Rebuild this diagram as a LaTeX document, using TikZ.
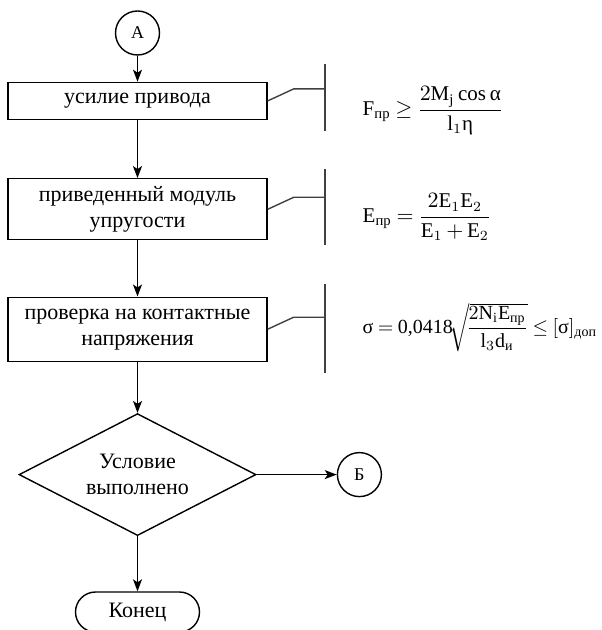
\documentclass[tikz,border=0pt]{standalone}
\usepackage{amsmath}
\usepackage{fontspec}
\setmainfont{Liberation Serif}
\usetikzlibrary{positioning, shapes.geometric, arrows.meta}

\newcommand\tightmath{\thickmuskip=4mu\relax\medmuskip=3mu\relax}

\begin{document}
\begin{tikzpicture}[
  font=\fontsize{11}{13}\selectfont,
  line width=0.7pt,
  flow/.style={-{Stealth[length=6pt, width=4.5pt, inset=1.5pt]}},
  procbox/.style={draw, minimum width=129.5pt, minimum height=#1,
                  inner sep=2pt, align=center},
  joint/.style={draw, circle, minimum size=22pt, inner sep=0pt,
                font=\fontsize{9}{10}\selectfont},
  check/.style={draw, diamond, aspect=1.9, minimum width=118.5pt,
                minimum height=61pt, inner sep=0pt, align=center},
  endbox/.style={draw, rounded corners=10pt, minimum width=62pt,
                 minimum height=20pt, inner sep=0pt},
  note/.style={draw=black!75, line width=0.7pt},
  formula/.style={anchor=west, inner sep=0pt,
                  font=\fontsize{10.5}{12}\selectfont}
]

\useasboundingbox (0,0) rectangle (300.5pt,-315pt);

% ── Flow chart ───────────────────────────────────────────────────────────────
\node[joint] (A) at (68.75pt,-16.5pt) {А};

\node[procbox=18.5pt, below=13pt of A] (force) {усилие привода};
\node[procbox=30.5pt, below=29pt of force] (modulus)
  {приведенный модуль\\упругости};
\node[procbox=32pt, below=28pt of modulus] (contact)
  {проверка на контактные\\напряжения};

\node[check, below=25.5pt of contact] (cond) {Условие\\выполнено};
\node[joint, right=40pt of cond] (B) {Б};
\node[endbox, below=27.5pt of cond] (finish) {Конец};

\draw[flow] (A) -- (force);
\draw[flow] (force) -- (modulus);
\draw[flow] (modulus) -- (contact);
\draw[flow] (contact) -- (cond);
\draw[flow] (cond) -- (B);
\draw[flow] (cond) -- (finish);

% ── Comment brackets ─────────────────────────────────────────────────────────
\coordinate (notex) at (162.5pt,0);

\foreach \blk/\up/\dn in {force/9pt/5.5pt, modulus/4.5pt/2.5pt,
                          contact/6.5pt/5.5pt} {
  \draw[note] (\blk.east) -- ++(13pt,6pt) -- ([yshift=6pt]\blk.east -| notex);
  \draw[note] ([yshift=\up]\blk.north -| notex)
    -- ([yshift=-\dn]\blk.south -| notex);
}

% ── Formulas ─────────────────────────────────────────────────────────────────
\node[formula] (fforce) at ([xshift=18.5pt, yshift=-5pt]force.east -| notex)
  {$\tightmath\mathrm{F}_{\text{пр}} \geq
    \dfrac{2\mathrm{M}_{\mathrm{j}}\cos\text{α}}{\mathrm{l}_1\text{η}}$};

\node[formula] (fmod) at ([xshift=18.5pt, yshift=-4pt]modulus.east -| notex)
  {$\tightmath\mathrm{E}_{\text{пр}} =
    \dfrac{2\mathrm{E}_1\mathrm{E}_2}{\mathrm{E}_1 + \mathrm{E}_2}$};

\node[formula, font=\fontsize{10}{12}\selectfont] (fcont)
  at ([xshift=18.5pt, yshift=1pt]contact.east -| notex)
  {$\tightmath\text{σ} = \text{0,0418}\!\sqrt{\!\dfrac{2\mathrm{N}_{\mathrm{i}}
    \mathrm{E}_{\text{пр}}}{\mathrm{l}_3\mathrm{d}_{\text{и}}}}
    \leq [\text{σ}]_{\text{доп}}$};

\end{tikzpicture}
\end{document}
